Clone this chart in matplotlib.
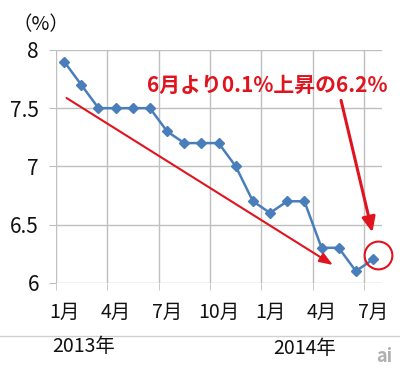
import matplotlib
matplotlib.use("Agg")
import matplotlib.pyplot as plt
import numpy as np

plt.rcParams['font.family'] = ['Noto Sans CJK JP', 'DejaVu Sans']

months = ["1月", "2月", "3月", "4月", "5月", "6月", "7月", "8月", "9月", "10月", "11月", "12月",
          "1月", "2月", "3月", "4月", "5月", "6月", "7月"]
rates = [7.9, 7.7, 7.5, 7.5, 7.5, 7.5, 7.3, 7.2, 7.2, 7.2, 7.0, 6.7,
         6.6, 6.7, 6.7, 6.3, 6.3, 6.1, 6.2]
yticks = [6, 6.5, 7, 7.5, 8]
ytick_labels = ["6", "6.5", "7", "7.5", "8"]
years = ["2013年", "2014年"]
note = "6月より0.1%上昇の6.2%"

grid_c = "#bfbfbf"
blue = "#4a7ebb"
red = "#e0141e"

fig = plt.figure(figsize=(4.0, 3.73), dpi=100)
ax = fig.add_axes([0.139, 0.242, 0.815, 0.624])
x = np.arange(len(rates))

ax.plot(x, rates, color=blue, lw=1.8, marker='D', markersize=5.5, zorder=3)

ax.set_xlim(-0.5, len(rates) - 0.5)
ax.set_ylim(6, 8)
for s in ax.spines.values():
    s.set_visible(False)

ax.set_yticks(yticks)
ax.set_yticklabels(ytick_labels, fontsize=15)
ax.tick_params(axis='y', length=5, color=grid_c, pad=7, labelcolor='#111111')

major = list(range(0, len(rates), 3))
ax.set_xticks(major)
ax.set_xticklabels([months[i] for i in major], fontsize=14)
ax.set_xticks(np.arange(-0.5, len(rates), 3), minor=True)
ax.tick_params(axis='x', which='major', length=0, pad=14, labelcolor='#111111')
ax.tick_params(axis='x', which='minor', length=5, color=grid_c)
ax.grid(True, axis='y', color=grid_c, lw=1)
ax.grid(True, axis='x', which='minor', color=grid_c, lw=1)
ax.set_axisbelow(True)

# trend arrow
ax.annotate("", xy=(15.8, 6.14), xytext=(0, 7.6),
            arrowprops=dict(arrowstyle='-|>,head_length=0.8,head_width=0.3', color=red, lw=1.5),
            annotation_clip=False)
# pointer arrow
ax.annotate("", xy=(18.0, 6.41), xytext=(16.1, 7.59),
            arrowprops=dict(arrowstyle='-|>,head_length=0.9,head_width=0.4', color=red, lw=2.2),
            annotation_clip=False)
ax.plot([18.3], [6.235], marker='o', markersize=20, markerfacecolor='none',
        markeredgecolor=red, markeredgewidth=1.5, clip_on=False, zorder=4)

fig.text(0.3675, 1 - 85 / 373, note, color=red, fontsize=15, fontweight='bold',
         ha='left', va='center')
fig.text(13 / 400, 1 - 25 / 373, "（%）", fontsize=14, ha='left', va='center', color='#111111')

fig.add_artist(plt.Line2D([0, 1], [1 - 336 / 373, 1 - 336 / 373], color='#d0d0d0', lw=1))
fig.text(84 / 400, 1 - 347 / 373, years[0], fontsize=14, ha='center', va='center', color='#111111')
fig.text(305 / 400, 1 - 348 / 373, years[1], fontsize=14, ha='center', va='center', color='#111111')
fig.text(384 / 400, 1 - 357 / 373, "ai", fontsize=13, style='italic', ha='center', va='center',
         color='#b0b0b0', fontweight='bold')

fig.savefig("out.png", dpi=100)
